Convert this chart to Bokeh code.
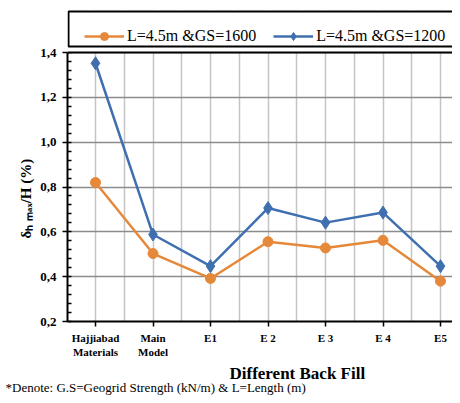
from bokeh.plotting import figure
from bokeh.models import (FixedTicker, CustomJSTickFormatter, Legend, LegendItem,
                          Span, ColumnDataSource, BoxAnnotation, Title)
from bokeh.embed import file_html
from bokeh.resources import INLINE

categories = ["Hajjiabad\nMaterials", "Main\nModel", "E1", "E 2", "E 3", "E 4", "E5"]
gs1600 = [0.82, 0.503, 0.392, 0.556, 0.528, 0.562, 0.38]
gs1200 = [1.352, 0.588, 0.447, 0.706, 0.641, 0.686, 0.447]
series_names = ["L=4.5m &GS=1600", "L=4.5m &GS=1200"]
y_ticks = [0.2, 0.4, 0.6, 0.8, 1.0, 1.2, 1.4]

ORANGE = "#E6883A"
BLUE = "#3F6FAF"
FONT = "Liberation Serif"

xs = list(range(len(categories)))

W, H = 452, 395
BL, BT, BB = 67, 8, 74
FH = H - BT - BB
Y0, Y1 = 0.2, 1.4
PXU = 269 / (Y1 - Y0)
YTOP = Y0 + FH / PXU
X0 = -0.487
XPU = 57.5

p = figure(width=W, height=H, output_backend="svg", toolbar_location=None,
           x_range=(X0, X0 + (W - BL) / XPU), y_range=(Y0, YTOP),
           min_border_left=BL, min_border_right=0, min_border_top=BT,
           min_border_bottom=BB)
p.outline_line_color = None
p.background_fill_color = "white"
p.border_fill_color = "white"

# grids
p.ygrid.ticker = FixedTicker(ticks=y_ticks)
p.ygrid.grid_line_color = "#8c8c8c"
p.ygrid.grid_line_width = 1.5
p.xgrid.ticker = FixedTicker(ticks=[i * 0.5 for i in range(0, 13)])
p.xgrid.grid_line_color = "#c4c4c4"
p.xgrid.grid_line_width = 1.5

src = ColumnDataSource(dict(x=xs, a=gs1600, b=gs1200))
l1 = p.line("x", "a", source=src, line_color=ORANGE, line_width=2.5)
s1 = p.scatter("x", "a", source=src, marker="circle", size=10, fill_color=ORANGE, line_color=ORANGE)
l2 = p.line("x", "b", source=src, line_color=BLUE, line_width=2.5)
s2 = p.scatter("x", "b", source=src, marker="diamond", size=13, fill_color=BLUE, line_color=BLUE)

# white area above the plot top (legend zone) + top rule
p.add_layout(BoxAnnotation(bottom=Y1, fill_color="white", fill_alpha=1, line_color=None))
p.add_layout(Span(location=Y1, dimension="width", line_color="black", line_width=2))
# legend frame
p.add_layout(BoxAnnotation(left=X0 + 1 / XPU, right=X0 + 2 * (W - BL) / XPU,
                           bottom=Y1 + 6 / PXU, top=Y1 + 41 / PXU,
                           fill_color="white", fill_alpha=1,
                           line_color="black", line_width=2, line_alpha=1))

# y axis
ya = p.yaxis[0]
ya.bounds = (Y0, Y1)
ya.ticker = FixedTicker(ticks=y_ticks, minor_ticks=[round(0.2 + 0.04 * i, 2) for i in range(31)])
ya.formatter = CustomJSTickFormatter(code="return tick.toFixed(1).replace('.', ',');")
ya.axis_line_color = "black"
ya.axis_line_width = 2
ya.major_tick_line_color = "black"
ya.major_tick_line_width = 1.5
ya.major_tick_out = 5
ya.major_tick_in = 0
ya.minor_tick_line_color = "black"
ya.minor_tick_line_width = 1.5
ya.minor_tick_in = 4
ya.minor_tick_out = 0
ya.major_label_text_font = FONT
ya.major_label_text_font_style = "bold"
ya.major_label_text_font_size = "13px"
ya.major_label_text_color = "black"
ya.major_label_standoff = 6

p.add_layout(Title(text="δₕ ₘₐₓ/H (%)", align="left", offset=83,
                   text_font=FONT, text_font_style="bold", text_font_size="15px",
                   text_color="black", standoff=8), "left")

# x axis
xa = p.xaxis[0]
xa.ticker = FixedTicker(ticks=xs)
xa.major_label_overrides = {i: c for i, c in enumerate(categories)}
xa.axis_line_color = "black"
xa.axis_line_width = 2
xa.major_tick_line_color = "black"
xa.major_tick_line_width = 1.5
xa.major_tick_out = 5
xa.major_tick_in = 0
xa.minor_tick_line_color = None
xa.major_label_text_font = FONT
xa.major_label_text_font_style = "bold"
xa.major_label_text_font_size = "11px"
xa.major_label_text_color = "black"
xa.major_label_standoff = 5

# x title and footnote
p.add_layout(Title(text="Different Back Fill", align="left", offset=162,
                   text_font=FONT, text_font_style="bold", text_font_size="17px",
                   text_color="black", standoff=2), "below")
p.add_layout(Title(text="*Denote: G.S=Geogrid  Strength (kN/m) & L=Length (m)", align="left",
                   offset=-62, text_font=FONT, text_font_style="normal",
                   text_font_size="13px", text_color="black", standoff=-12), "below")

legend = Legend(items=[LegendItem(label=series_names[0], renderers=[l1, s1]),
                       LegendItem(label=series_names[1], renderers=[l2, s2])],
                orientation="horizontal", location=(17, (Y1 - Y0) * PXU + 6),
                border_line_color=None, background_fill_alpha=0,
                label_text_font=FONT, label_text_font_size="16px",
                label_text_color="black",
                glyph_width=40, glyph_height=20, label_standoff=3,
                spacing=17, padding=8, margin=0)
p.add_layout(legend, "center")

open("out.html", "w").write(file_html(p, INLINE))
